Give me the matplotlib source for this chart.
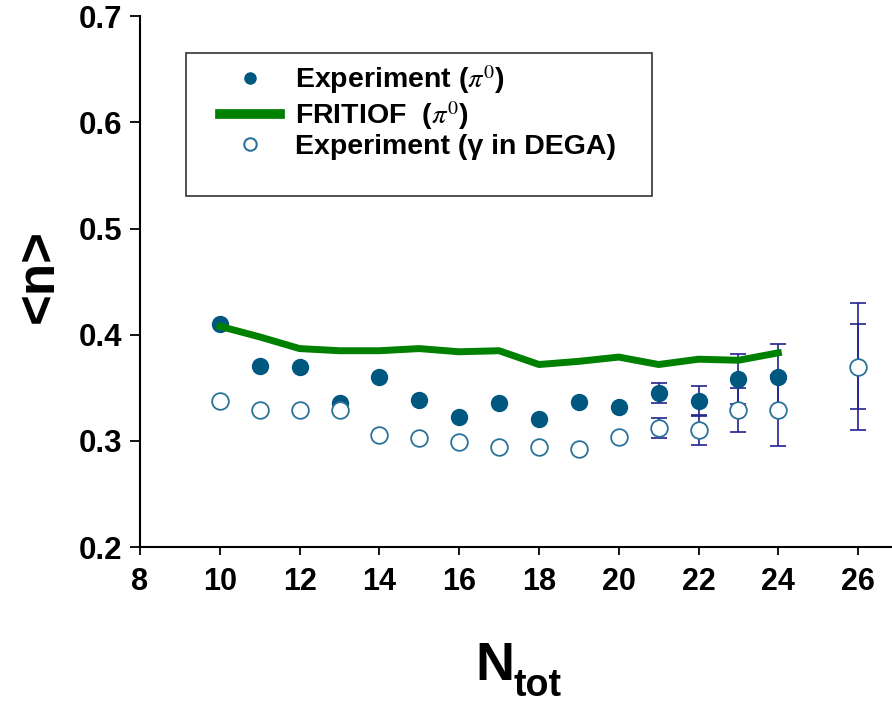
import matplotlib
matplotlib.use("Agg")
import matplotlib.pyplot as plt
from matplotlib.patches import Rectangle
from matplotlib.lines import Line2D

plt.rcParams['font.family'] = ['Liberation Sans', 'DejaVu Sans']
plt.rcParams['mathtext.fontset'] = 'stix'

# Experiment (pi0), filled points
n_exp = [10, 11, 12, 13, 14, 15, 16, 17, 18, 19, 20, 21, 22, 23, 24]
pi0_exp = [0.410, 0.371, 0.370, 0.336, 0.360, 0.339, 0.323, 0.336, 0.321,
           0.337, 0.332, 0.345, 0.338, 0.358, 0.360]
pi0_err = [0, 0, 0, 0, 0, 0, 0, 0, 0, 0, 0, 0.0095, 0.0135, 0.0235, 0.031]

# FRITIOF (pi0)
n_frit = [10, 11, 12, 13, 14, 15, 16, 17, 18, 19, 20, 21, 22, 23, 24]
pi0_frit = [0.408, 0.398, 0.387, 0.385, 0.385, 0.387, 0.384, 0.385, 0.372,
            0.375, 0.379, 0.372, 0.377, 0.376, 0.383]

# Experiment (gamma in DEGA), open points
n_dega = [10, 11, 12, 13, 14, 15, 16, 17, 18, 19, 20, 21, 22, 23, 24, 26]
gam_dega = [0.338, 0.329, 0.329, 0.329, 0.306, 0.303, 0.299, 0.294, 0.294,
            0.292, 0.304, 0.312, 0.310, 0.329, 0.329, 0.370]
gam_err = [0, 0, 0, 0, 0, 0, 0, 0, 0, 0, 0, 0.0095, 0.0135, 0.021, 0.0335, 0.040]
# outer (total) error for the last point
n_tot_err = [26]
gam_tot = [0.370]
gam_tot_err = [0.0596]

dark_blue = '#00577f'
open_blue = '#2b7299'
err_col = '#23238f'
green = '#008000'

fig = plt.figure(figsize=(8.92, 7.06), dpi=100)
ax = fig.add_axes([0.157, 0.225, 0.843, 0.752])

ekw = dict(fmt='none', ecolor=err_col, elinewidth=1.2, capsize=5.5, capthick=1.2, zorder=2)
ax.errorbar(n_exp, pi0_exp, yerr=pi0_err, **ekw)
ax.errorbar(n_dega, gam_dega, yerr=gam_err, **ekw)
ax.errorbar(n_tot_err, gam_tot, yerr=gam_tot_err, **ekw)

ax.plot(n_exp, pi0_exp, 'o', color=dark_blue, markersize=12.5, markeredgewidth=0, zorder=3)
ax.plot(n_frit, pi0_frit, '-', color=green, linewidth=5, zorder=4)
ax.plot(n_dega, gam_dega, 'o', markerfacecolor='white', markeredgecolor=open_blue,
        markersize=12, markeredgewidth=1.3, zorder=5)

ax.set_xlim(8, 26.85)
ax.set_ylim(0.2, 0.7)
ax.set_xticks(range(8, 27, 2))
ax.set_yticks([0.2, 0.3, 0.4, 0.5, 0.6, 0.7])
ax.set_yticklabels(['0.2', '0.3', '0.4', '0.5', '0.6', '0.7'])

for s in ['top', 'right']:
    ax.spines[s].set_visible(False)
for s in ['left', 'bottom']:
    ax.spines[s].set_linewidth(1.5)

ax.tick_params(axis='y', direction='out', length=7, width=1.3, pad=6)
ax.tick_params(axis='x', direction='out', length=6, width=1.3, pad=8)
for lab in ax.get_yticklabels():
    lab.set_fontsize(22.5)
    lab.set_fontweight('bold')
for lab in ax.get_xticklabels():
    lab.set_fontsize(22)
    lab.set_fontweight('bold')

ax.set_ylabel('<n>', fontsize=38, fontweight='bold')
ax.yaxis.set_label_coords(-0.101, 0.51)

# x label: big N with bold subscript
fig.text(475 / 892, 1 - 680 / 706, 'N', fontsize=39, fontweight='bold',
         ha='left', va='baseline')
fig.text(514 / 892, 1 - 696 / 706, 'tot', fontsize=27, fontweight='bold',
         ha='left', va='baseline')

# legend box
ax.add_patch(Rectangle((0.061, 0.661), 0.62, 0.269, transform=ax.transAxes,
                       fill=False, edgecolor='#333333', linewidth=1.2, zorder=6))
handles = [
    Line2D([], [], marker='o', linestyle='none', color=dark_blue, markersize=9, markeredgewidth=0),
    Line2D([], [], color=green, linewidth=7),
    Line2D([], [], marker='o', linestyle='none', markerfacecolor='white',
           markeredgecolor=open_blue, markersize=9, markeredgewidth=1.5),
]
labels = [r'Experiment ($\pi^0$)', r'FRITIOF  ($\pi^0$)', 'Experiment (γ in DEGA)']
leg = ax.legend(handles, labels, loc='upper left', bbox_to_anchor=(0.106, 0.912),
                frameon=False, handlelength=2.1, handletextpad=0.55,
                labelspacing=0.1, borderpad=0, borderaxespad=0,
                prop=dict(size=20.5, weight='bold'))
leg.set_zorder(7)

fig.savefig('out.png', dpi=100)
